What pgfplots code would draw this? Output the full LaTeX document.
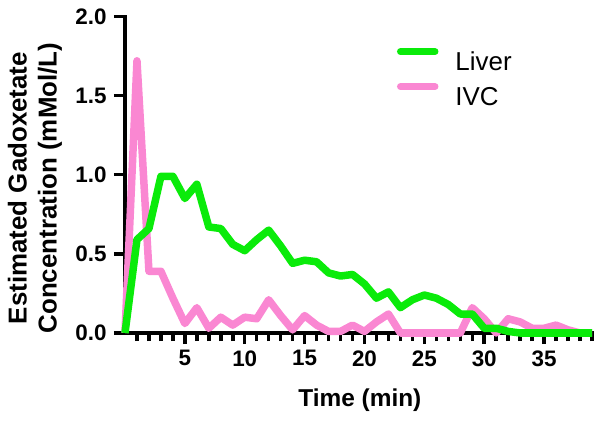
\documentclass[border=0pt]{standalone}
\usepackage{pgfplots}
\pgfplotsset{compat=1.18}
\usepackage{fontspec}
\setmainfont{Liberation Sans}
\definecolor{liver}{RGB}{10,235,10}
\definecolor{ivc}{RGB}{250,135,210}
\begin{document}
\begin{tikzpicture}
\useasboundingbox (0,0) rectangle (604bp,423bp);
\begin{axis}[
  at={(125bp,90bp)}, anchor=south west,
  scale only axis, width=467bp, height=316.5bp,
  xmin=0, xmax=39, ymin=0, ymax=2,
  clip=false,
  axis x line*=bottom, axis y line*=left,
  axis line style={-, line width=3.8bp, line cap=rect},
  xtick={5,10,...,35}, minor xtick={1,...,39},
  ytick={0,0.5,...,2},
  tick align=outside,
  major tick length=11bp, minor tick length=8bp,
  every tick/.style={black, line width=3.5bp},
  /pgf/number format/assume math mode=true,
  tick label style={font=\fontsize{22.5}{22.5}\selectfont\bfseries},
  yticklabel style={xshift=-4bp, /pgf/number format/.cd, fixed, fixed zerofill, precision=1},
  xticklabel style={yshift=-3bp, /pgf/number format/.cd, fixed, precision=0},
  xlabel={Time (min)},
  xlabel style={font=\fontsize{24.5}{28}\selectfont\bfseries, at={(axis description cs:0.503,-0.212)}, anchor=center},
  ylabel={Estimated Gadoxetate\\Concentration (mMol/L)},
  ylabel style={font=\fontsize{26}{30}\selectfont\bfseries, align=center, at={(axis description cs:-0.193,0.458)}, anchor=center, rotate=0},
  legend style={at={(axis description cs:0.582,0.81)}, anchor=west, draw=none, fill=none, inner sep=0pt,
    row sep=13bp, font=\fontsize{26}{26}\selectfont,
    nodes={inner sep=0pt, text height=19bp, text depth=0bp}},
  legend cell align=left,
  legend image code/.code={\draw[#1, line width=7bp, line cap=round] (3.5bp,9bp) -- (38bp,9bp);},
]
\addlegendimage{liver}
\addlegendentry{\hspace{17bp}Liver}
\addlegendimage{ivc}
\addlegendentry{\hspace{17bp}IVC}
\addplot[ivc, line width=7.5bp, line join=round, forget plot] coordinates {
(0,0)(1,1.72)(2,0.39)(3,0.39)(4,0.22)(5,0.06)(6,0.16)(7,0.03)(8,0.10)(9,0.05)
(10,0.10)(11,0.09)(12,0.21)(13,0.11)(14,0.02)(15,0.11)(16,0.05)(17,0.01)(18,0.01)(19,0.05)
(20,0.01)(21,0.07)(22,0.12)(23,0)(24,0)(25,0)(26,0)(27,0)(28,0)(29,0.16)
(30,0.09)(31,0)(32,0.09)(33,0.07)(34,0.03)(35,0.03)(36,0.05)(37,0.02)(38,0)(39,0)};
\addplot[liver, line width=7.5bp, line join=round, forget plot] coordinates {
(0,0)(1,0.59)(2,0.66)(3,0.99)(4,0.99)(5,0.85)(6,0.94)(7,0.67)(8,0.66)(9,0.56)
(10,0.52)(11,0.59)(12,0.65)(13,0.55)(14,0.44)(15,0.46)(16,0.45)(17,0.38)(18,0.36)(19,0.37)
(20,0.31)(21,0.22)(22,0.26)(23,0.16)(24,0.21)(25,0.24)(26,0.22)(27,0.18)(28,0.12)(29,0.12)
(30,0.03)(31,0.03)(32,0.01)(33,0)(34,0)(35,0)(36,0)(37,0)(38,0)(39,0)};
\end{axis}
\end{tikzpicture}
\end{document}
